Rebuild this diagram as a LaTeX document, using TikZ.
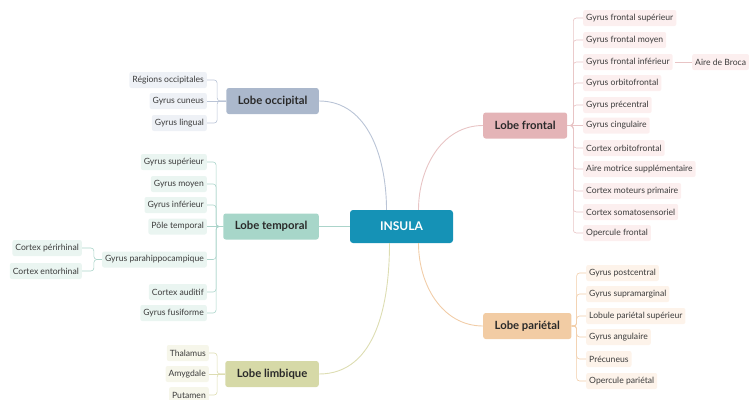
\documentclass[tikz,border=0pt]{standalone}
\usepackage{fontspec}
\setmainfont{Lato}
\usetikzlibrary{positioning, calc}
\definecolor{insula}{HTML}{1592B6}
\definecolor{ink}{HTML}{2A2A2A}
\definecolor{leafink}{HTML}{3C3C3C}
\definecolor{occfill}{HTML}{ABB8CC}
\definecolor{occleaf}{HTML}{EEF1F6}
\definecolor{occline}{HTML}{BAC4D6}
\definecolor{temfill}{HTML}{A7D6C9}
\definecolor{temleaf}{HTML}{EAF5F1}
\definecolor{temline}{HTML}{ABD4CA}
\definecolor{limfill}{HTML}{D6D9A7}
\definecolor{limleaf}{HTML}{F6F6EA}
\definecolor{limline}{HTML}{DDDDB2}
\definecolor{frofill}{HTML}{E4B4B7}
\definecolor{froleaf}{HTML}{FCEFEF}
\definecolor{froline}{HTML}{E8C4C5}
\definecolor{parfill}{HTML}{F2CCA4}
\definecolor{parleaf}{HTML}{FDF3EA}
\definecolor{parline}{HTML}{F1CDA8}
\tikzset{
  insulabox/.style={fill=insula, text=white, rounded corners=3pt,
    minimum width=103pt, minimum height=33pt,
    font=\bfseries\fontsize{12}{14}\selectfont},
  lobebox/.style={fill=#1, text=ink, rounded corners=2.5pt,
    minimum height=26pt, inner xsep=11.5pt,
    font=\bfseries\fontsize{11.3}{13}\selectfont},
  leafbox/.style={fill=#1, text=leafink, rounded corners=2pt,
    minimum height=16pt, inner xsep=3pt, inner ysep=2pt,
    font=\fontsize{8.6}{10}\selectfont},
  branch/.style={draw=#1, line width=0.9pt},
  twig/.style={draw=#1, line width=0.6pt, rounded corners=3pt}
}
\begin{document}
\begin{tikzpicture}[x=1pt, y=-1pt]

  \useasboundingbox (0,0) rectangle (749,399);

  % ---- Centre --------------------------------------------------------------
  \node[insulabox] (insula) at (401.5, 226.5) {INSULA};

  % ---- Lobes ---------------------------------------------------------------
  \node[lobebox=occfill, anchor=east] (occ) at (319, 101)   {Lobe occipital};
  \node[lobebox=temfill, anchor=east] (tem) at (319, 226.5) {Lobe temporal};
  \node[lobebox=limfill, anchor=east] (lim) at (319, 374)   {Lobe limbique};
  \node[lobebox=frofill, anchor=west] (fro) at (483, 125.5) {Lobe frontal};
  \node[lobebox=parfill, anchor=west] (par) at (483, 326)   {Lobe pariétal};

  % ---- Branches from the centre --------------------------------------------
  \coordinate (insulaNW) at ($(insula.north)+(-15,0)$);
  \coordinate (insulaNE) at ($(insula.north)+(17,0)$);
  \coordinate (insulaSW) at ($(insula.south)+(-12,0)$);
  \coordinate (insulaSE) at ($(insula.south)+(17,0)$);
  \draw[branch=occline] (insulaNW) to[out=90, in=0] (occ.east);
  \draw[branch=temline] (insula.west) -- (tem.east);
  \draw[branch=limline] (insulaSW) to[out=-90, in=0] (lim.east);
  \draw[branch=froline] (insulaNE) to[out=90, in=180] (fro.west);
  \draw[branch=parline] (insulaSE) to[out=-90, in=180] (par.west);

  % ---- Lobe occipital ------------------------------------------------------
  \node[leafbox=occleaf, anchor=east] (occ1) at (207, 80)  {Régions occipitales};
  \node[leafbox=occleaf, anchor=east] (occ2) at (207, 101) {Gyrus cuneus};
  \node[leafbox=occleaf, anchor=east] (occ3) at (207, 123) {Gyrus lingual};
  \draw[twig=occline] (occ.west) -- ++(-9,0) |- (occ1.east);
  \draw[twig=occline] (occ.west) -- (occ2.east);
  \draw[twig=occline] (occ.west) -- ++(-9,0) |- (occ3.east);

  % ---- Lobe temporal -------------------------------------------------------
  \node[leafbox=temleaf, anchor=east] (tem1) at (207, 162)   {Gyrus supérieur};
  \node[leafbox=temleaf, anchor=east] (tem2) at (207, 184)   {Gyrus moyen};
  \node[leafbox=temleaf, anchor=east] (tem3) at (207, 205)   {Gyrus inférieur};
  \node[leafbox=temleaf, anchor=east] (tem4) at (207, 226.5) {Pôle temporal};
  \node[leafbox=temleaf, anchor=east] (tem5) at (207, 259.5) {Gyrus parahippocampique};
  \node[leafbox=temleaf, anchor=east] (tem6) at (207, 292)   {Cortex auditif};
  \node[leafbox=temleaf, anchor=east] (tem7) at (207, 313)   {Gyrus fusiforme};
  \draw[twig=temline] (tem.west) -- ++(-7,0) |- (tem1.east);
  \draw[twig=temline] (tem.west) -- ++(-7,0) |- (tem2.east);
  \draw[twig=temline] (tem.west) -- ++(-7,0) |- (tem3.east);
  \draw[twig=temline] (tem.west) -- (tem4.east);
  \draw[twig=temline] (tem.west) -- ++(-7,0) |- (tem5.east);
  \draw[twig=temline] (tem.west) -- ++(-7,0) |- (tem6.east);
  \draw[twig=temline] (tem.west) -- ++(-7,0) |- (tem7.east);

  % ---- Gyrus parahippocampique ---------------------------------------------
  \node[leafbox=temleaf, anchor=east] (hip1) at (82, 248) {Cortex périrhinal};
  \node[leafbox=temleaf, anchor=east] (hip2) at (82, 271) {Cortex entorhinal};
  \draw[twig=temline] (tem5.west) -- ++(-8,0) |- (hip1.east);
  \draw[twig=temline] (tem5.west) -- ++(-8,0) |- (hip2.east);

  % ---- Lobe limbique -------------------------------------------------------
  \node[leafbox=limleaf, anchor=east] (lim1) at (209, 353) {Thalamus};
  \node[leafbox=limleaf, anchor=east] (lim2) at (209, 374) {Amygdale};
  \node[leafbox=limleaf, anchor=east] (lim3) at (209, 395) {Putamen};
  \draw[twig=limline] (lim.west) -- ++(-8,0) |- (lim1.east);
  \draw[twig=limline] (lim.west) -- (lim2.east);
  \draw[twig=limline] (lim.west) -- ++(-8,0) |- (lim3.east);

  % ---- Lobe frontal --------------------------------------------------------
  \node[leafbox=froleaf, anchor=west] (fro1)  at (583, 18)    {Gyrus frontal supérieur};
  \node[leafbox=froleaf, anchor=west] (fro2)  at (583, 40)    {Gyrus frontal moyen};
  \node[leafbox=froleaf, anchor=west] (fro3)  at (583, 62)    {Gyrus frontal inférieur};
  \node[leafbox=froleaf, anchor=west] (fro4)  at (583, 83)    {Gyrus orbitofrontal};
  \node[leafbox=froleaf, anchor=west] (fro5)  at (583, 105)   {Gyrus précentral};
  \node[leafbox=froleaf, anchor=west] (fro6)  at (583, 125.5) {Gyrus cingulaire};
  \node[leafbox=froleaf, anchor=west] (fro7)  at (583, 148)   {Cortex orbitofrontal};
  \node[leafbox=froleaf, anchor=west] (fro8)  at (583, 169)   {Aire motrice supplémentaire};
  \node[leafbox=froleaf, anchor=west] (fro9)  at (583, 191)   {Cortex moteurs primaire};
  \node[leafbox=froleaf, anchor=west] (fro10) at (583, 212)   {Cortex somatosensoriel};
  \node[leafbox=froleaf, anchor=west] (fro11) at (583, 233)   {Opercule frontal};
  \draw[twig=froline] (fro.east) -- ++(6,0) |- (fro1.west);
  \draw[twig=froline] (fro.east) -- ++(6,0) |- (fro2.west);
  \draw[twig=froline] (fro.east) -- ++(6,0) |- (fro3.west);
  \draw[twig=froline] (fro.east) -- ++(6,0) |- (fro4.west);
  \draw[twig=froline] (fro.east) -- ++(6,0) |- (fro5.west);
  \draw[twig=froline] (fro.east) -- (fro6.west);
  \draw[twig=froline] (fro.east) -- ++(6,0) |- (fro7.west);
  \draw[twig=froline] (fro.east) -- ++(6,0) |- (fro8.west);
  \draw[twig=froline] (fro.east) -- ++(6,0) |- (fro9.west);
  \draw[twig=froline] (fro.east) -- ++(6,0) |- (fro10.west);
  \draw[twig=froline] (fro.east) -- ++(6,0) |- (fro11.west);

  % ---- Aire de Broca -------------------------------------------------------
  \node[leafbox=froleaf, anchor=west] (broca) at (692, 62) {Aire de Broca};
  \draw[twig=froline] (fro3.east) ++(2,0) -- (broca.west);

  % ---- Lobe pariétal -------------------------------------------------------
  \node[leafbox=parleaf, anchor=west] (par1) at (586, 273) {Gyrus postcentral};
  \node[leafbox=parleaf, anchor=west] (par2) at (586, 294) {Gyrus supramarginal};
  \node[leafbox=parleaf, anchor=west] (par3) at (586, 316) {Lobule pariétal supérieur};
  \node[leafbox=parleaf, anchor=west] (par4) at (586, 337) {Gyrus angulaire};
  \node[leafbox=parleaf, anchor=west] (par5) at (586, 359) {Précuneus};
  \node[leafbox=parleaf, anchor=west] (par6) at (586, 381) {Opercule pariétal};
  \draw[twig=parline] (par.east) -- ++(5,0) |- (par1.west);
  \draw[twig=parline] (par.east) -- ++(5,0) |- (par2.west);
  \draw[twig=parline] (par.east) -- ++(5,0) |- (par3.west);
  \draw[twig=parline] (par.east) -- ++(5,0) |- (par4.west);
  \draw[twig=parline] (par.east) -- ++(5,0) |- (par5.west);
  \draw[twig=parline] (par.east) -- ++(5,0) |- (par6.west);

\end{tikzpicture}
\end{document}
